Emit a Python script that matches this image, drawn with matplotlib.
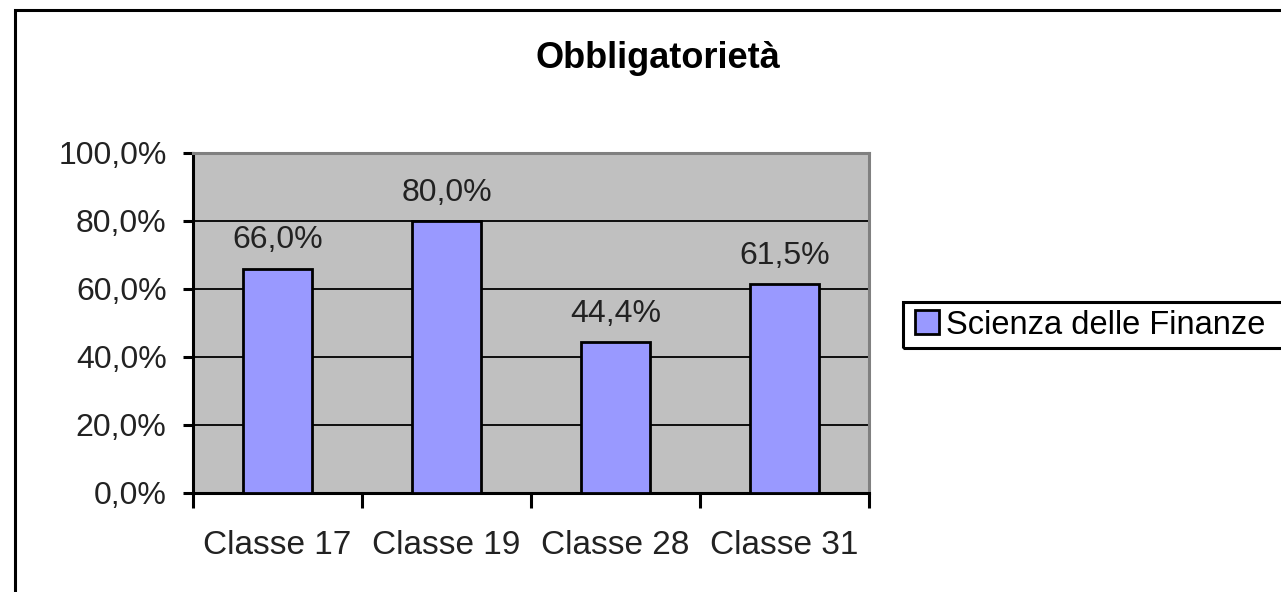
import matplotlib
matplotlib.use("Agg")
import matplotlib.pyplot as plt
import numpy as np
from matplotlib.patches import Rectangle

categories = ["Classe 17", "Classe 19", "Classe 28", "Classe 31"]
values = [66.0, 80.0, 44.4, 61.5]
series_name = "Scienza delle Finanze"
title = "Obbligatorietà"

plt.rcParams["font.family"] = ["Liberation Sans", "DejaVu Sans"]

fig = plt.figure(figsize=(12.81, 5.92), dpi=100)
ax = fig.add_axes([193 / 1281, 1 - 493 / 592, 676 / 1281, 340 / 592])

# outer chart frame (cropped on right/bottom in the original)
fig.patches.append(Rectangle((14.5 / 1281, -0.1), 1.2, 1 - 9.5 / 592 + 0.1,
                             transform=fig.transFigure, fill=False,
                             edgecolor="black", lw=2.2, zorder=0))
# legend frame, also running past the right edge
fig.patches.append(Rectangle((903 / 1281, 1 - 348 / 592), 0.4, 46 / 592,
                             transform=fig.transFigure, fill=False,
                             edgecolor="black", lw=2.2, zorder=0))

x = np.arange(len(categories))
ax.set_facecolor("#c0c0c0")
ax.yaxis.grid(True, color="black", lw=1.3)
ax.set_axisbelow(True)
bars = ax.bar(x, values, 0.41, color="#9999ff", edgecolor="black", lw=2,
              label=series_name, zorder=3)
for xi, v in zip(x, values):
    ax.text(xi, v + 6.0, f"{v:.1f}%".replace(".", ","), ha="center", va="baseline",
            fontsize=23, color="#222222")

ax.set_xlim(-0.5, len(categories) - 0.5)
ax.set_ylim(0, 100)
ax.set_yticks(np.arange(0, 101, 20))
ax.set_yticklabels([f"{t:.1f}%".replace(".", ",") for t in np.arange(0, 101, 20)],
                   fontsize=23, color="#222222")
ax.set_xticks(x)
ax.set_xticklabels(categories, fontsize=24, color="#222222")
ax.set_xticks(np.arange(-0.5, len(categories)), minor=True)
ax.tick_params(axis="x", which="major", length=0, pad=27)
ax.tick_params(axis="x", which="minor", length=11, width=2.2)
ax.tick_params(axis="y", length=7, width=2.2, pad=12)

for side in ["left", "bottom"]:
    ax.spines[side].set_color("black")
    ax.spines[side].set_linewidth(2.2)
for side in ["top", "right"]:
    ax.spines[side].set_color("#808080")
    ax.spines[side].set_linewidth(2.2)

fig.text(658 / 1281, 1 - 58 / 592, title, ha="center", va="center",
         fontsize=26, fontweight="bold")

leg = fig.legend(handles=[bars], labels=[series_name],
                 loc="center left", bbox_to_anchor=(908 / 1281, 1 - 325 / 592),
                 fontsize=23.5, frameon=False, handlelength=0.75,
                 handleheight=0.75, handletextpad=0.2, borderpad=0.2,
                 borderaxespad=0)

fig.savefig("out.png", dpi=100)
